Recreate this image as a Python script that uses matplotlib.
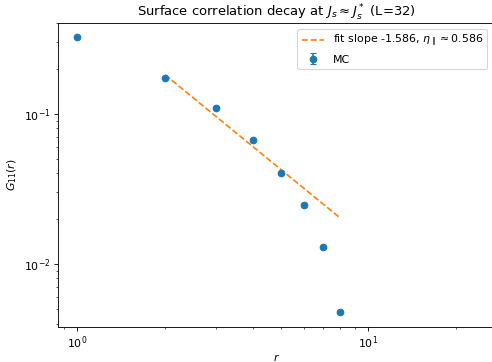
import matplotlib
matplotlib.use("Agg")
import matplotlib.pyplot as plt
import numpy as np

# MC data
r = [1, 2, 3, 4, 5, 6, 7, 8]
G11 = [0.323, 0.173, 0.1086, 0.0667, 0.0403, 0.0245, 0.0129, 0.00477]
G11_err = [0.002, 0.0012, 0.0008, 0.0005, 0.0003, 0.0002, 0.0001, 0.00005]

# power law fit G = A * r^slope on r in [2, 8]
fit_slope = -1.586
fit_amp = 0.546
fit_range = [2, 8]
eta = 0.586

DPI = 79
fig = plt.figure(figsize=(492 / DPI, 362 / DPI), dpi=DPI)
ax = fig.add_axes([0.118, 0.098, 0.888, 0.838])

rr = np.linspace(fit_range[0], fit_range[1], 50)
ax.plot(rr, fit_amp * rr ** fit_slope, '--', color='C1',
        label='fit slope %.3f, $\\eta_\\parallel\\approx$%.3f' % (fit_slope, eta))
ax.errorbar(r, G11, yerr=G11_err, fmt='o', color='C0', capsize=3, label='MC')

ax.set_xscale('log')
ax.set_yscale('log')
ax.set_xlim(0.858, 27.2)
ax.set_xlabel('$r$', labelpad=1)
ax.set_ylabel('$G_{11}(r)$')
ax.set_title('Surface correlation decay at $J_s \\approx J_s^*$ (L=32)')
ax.legend(loc='upper right', bbox_to_anchor=(0.995, 1.0))

fig.savefig('out.png', dpi=DPI)
